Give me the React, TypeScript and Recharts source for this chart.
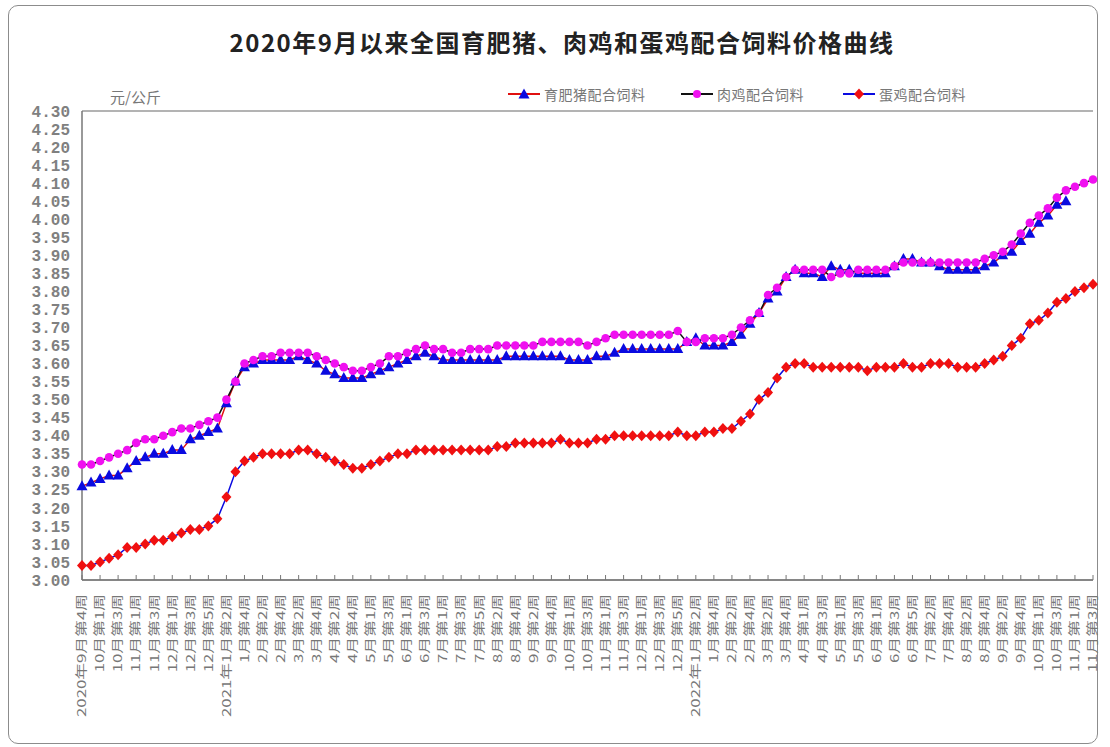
import { LineChart, Line, XAxis, YAxis, CartesianGrid } from 'recharts'

// 周次（每周一个点，横轴隔一周标一次）
const weeks = [
  '2020年9月第4周', '9月第5周', '10月第1周', '10月第2周', '10月第3周', '10月第4周',
  '11月第1周', '11月第2周', '11月第3周', '11月第4周',
  '12月第1周', '12月第2周', '12月第3周', '12月第4周', '12月第5周',
  '1月第1周', '2021年1月第2周', '1月第3周', '1月第4周',
  '2月第1周', '2月第2周', '2月第3周', '2月第4周',
  '3月第1周', '3月第2周', '3月第3周', '3月第4周',
  '4月第1周', '4月第2周', '4月第3周', '4月第4周', '4月第5周',
  '5月第1周', '5月第2周', '5月第3周', '5月第4周',
  '6月第1周', '6月第2周', '6月第3周', '6月第4周',
  '7月第1周', '7月第2周', '7月第3周', '7月第4周', '7月第5周',
  '8月第1周', '8月第2周', '8月第3周', '8月第4周',
  '9月第1周', '9月第2周', '9月第3周', '9月第4周', '9月第5周',
  '10月第1周', '10月第2周', '10月第3周', '10月第4周',
  '11月第1周', '11月第2周', '11月第3周', '11月第4周',
  '12月第1周', '12月第2周', '12月第3周', '12月第4周', '12月第5周',
  '1月第1周', '2022年1月第2周', '1月第3周', '1月第4周',
  '2月第1周', '2月第2周', '2月第3周', '2月第4周',
  '3月第1周', '3月第2周', '3月第3周', '3月第4周', '3月第5周',
  '4月第1周', '4月第2周', '4月第3周', '4月第4周',
  '5月第1周', '5月第2周', '5月第3周', '5月第4周',
  '6月第1周', '6月第2周', '6月第3周', '6月第4周', '6月第5周',
  '7月第1周', '7月第2周', '7月第3周', '7月第4周',
  '8月第1周', '8月第2周', '8月第3周', '8月第4周',
  '9月第1周', '9月第2周', '9月第3周', '9月第4周', '9月第5周',
  '10月第1周', '10月第2周', '10月第3周', '10月第4周',
  '11月第1周', '11月第2周', '11月第3周',
]

// 育肥猪配合饲料
const pig: (number | null)[] = [
  3.26, 3.27, 3.28, 3.29, 3.29, 3.31, 3.33, 3.34, 3.35, 3.35,
  3.36, 3.36, 3.39, 3.40, 3.41, 3.42, 3.49, 3.55, 3.59, 3.60,
  3.61, 3.61, 3.61, 3.61, 3.62, 3.61, 3.60, 3.58, 3.57, 3.56,
  3.56, 3.56, 3.57, 3.58, 3.59, 3.60, 3.61, 3.62, 3.63, 3.62,
  3.61, 3.61, 3.61, 3.61, 3.61, 3.61, 3.61, 3.62, 3.62, 3.62,
  3.62, 3.62, 3.62, 3.62, 3.61, 3.61, 3.61, 3.62, 3.62, 3.63,
  3.64, 3.64, 3.64, 3.64, 3.64, 3.64, 3.64, 3.66, 3.67, 3.65,
  3.65, 3.65, 3.66, 3.68, 3.71, 3.74, 3.78, 3.80, 3.84, 3.86,
  3.85, 3.85, 3.84, 3.87, 3.86, 3.86, 3.85, 3.85, 3.85, 3.85,
  3.87, 3.89, 3.89, 3.88, 3.88, 3.87, 3.86, 3.86, 3.86, 3.86,
  3.87, 3.88, 3.90, 3.91, 3.94, 3.96, 3.99, 4.01, 4.04, 4.05,
  null, null, null,
]

// 肉鸡配合饲料
const broiler = [
  3.32, 3.32, 3.33, 3.34, 3.35, 3.36, 3.38, 3.39, 3.39, 3.40,
  3.41, 3.42, 3.42, 3.43, 3.44, 3.45, 3.50, 3.55, 3.60, 3.61,
  3.62, 3.62, 3.63, 3.63, 3.63, 3.63, 3.62, 3.61, 3.60, 3.59,
  3.58, 3.58, 3.59, 3.60, 3.62, 3.62, 3.63, 3.64, 3.65, 3.64,
  3.64, 3.63, 3.63, 3.64, 3.64, 3.64, 3.65, 3.65, 3.65, 3.65,
  3.65, 3.66, 3.66, 3.66, 3.66, 3.66, 3.65, 3.66, 3.67, 3.68,
  3.68, 3.68, 3.68, 3.68, 3.68, 3.68, 3.69, 3.66, 3.66, 3.67,
  3.67, 3.67, 3.68, 3.70, 3.72, 3.74, 3.79, 3.81, 3.84, 3.86,
  3.86, 3.86, 3.86, 3.84, 3.85, 3.85, 3.86, 3.86, 3.86, 3.86,
  3.87, 3.88, 3.88, 3.88, 3.88, 3.88, 3.88, 3.88, 3.88, 3.88,
  3.89, 3.90, 3.91, 3.93, 3.96, 3.99, 4.01, 4.03, 4.06, 4.08,
  4.09, 4.10, 4.11,
]

// 蛋鸡配合饲料
const layer = [
  3.04, 3.04, 3.05, 3.06, 3.07, 3.09, 3.09, 3.10, 3.11, 3.11,
  3.12, 3.13, 3.14, 3.14, 3.15, 3.17, 3.23, 3.30, 3.33, 3.34,
  3.35, 3.35, 3.35, 3.35, 3.36, 3.36, 3.35, 3.34, 3.33, 3.32,
  3.31, 3.31, 3.32, 3.33, 3.34, 3.35, 3.35, 3.36, 3.36, 3.36,
  3.36, 3.36, 3.36, 3.36, 3.36, 3.36, 3.37, 3.37, 3.38, 3.38,
  3.38, 3.38, 3.38, 3.39, 3.38, 3.38, 3.38, 3.39, 3.39, 3.40,
  3.40, 3.40, 3.40, 3.40, 3.40, 3.40, 3.41, 3.40, 3.40, 3.41,
  3.41, 3.42, 3.42, 3.44, 3.46, 3.50, 3.52, 3.56, 3.59, 3.60,
  3.60, 3.59, 3.59, 3.59, 3.59, 3.59, 3.59, 3.58, 3.59, 3.59,
  3.59, 3.60, 3.59, 3.59, 3.60, 3.60, 3.60, 3.59, 3.59, 3.59,
  3.60, 3.61, 3.62, 3.65, 3.67, 3.71, 3.72, 3.74, 3.77, 3.78,
  3.80, 3.81, 3.82,
]

const yTicks = [
  3.0, 3.05, 3.1, 3.15, 3.2, 3.25, 3.3, 3.35, 3.4, 3.45, 3.5, 3.55, 3.6, 3.65,
  3.7, 3.75, 3.8, 3.85, 3.9, 3.95, 4.0, 4.05, 4.1, 4.15, 4.2, 4.25, 4.3,
]

const chartData = weeks.map((w, i) => ({
  week: w,
  pig: pig[i],
  broiler: broiler[i],
  layer: layer[i],
}))

const CJK = '"Noto Sans CJK SC", sans-serif'
const BLUE = '#0a0ae0'
const PINK = '#f010f0'
const RED = '#f01010'

function WeekTick({ x, y, payload }: any) {
  return (
    <g>
      <line x1={x} y1={y} x2={x} y2={y - 5} stroke="#777" />
      <text
        transform={`translate(${x},${y + 14}) rotate(-90) scale(1.4,1)`}
        textAnchor="end"
        dy="0.36em"
        fontSize={12}
        fill="#777"
        fontFamily={CJK}
      >
        {payload.value}
      </text>
    </g>
  )
}

function Triangle({ cx, cy, index }: any) {
  if (cx == null || cy == null) return <g key={`t${index}`} />
  return (
    <polygon
      key={`t${index}`}
      points={`${cx},${cy - 6} ${cx - 5.5},${cy + 4} ${cx + 5.5},${cy + 4}`}
      fill={BLUE}
    />
  )
}

function Circle({ cx, cy, index }: any) {
  if (cx == null || cy == null) return <g key={`c${index}`} />
  return <circle key={`c${index}`} cx={cx} cy={cy} r={4.3} fill={PINK} />
}

function Diamond({ cx, cy, index }: any) {
  if (cx == null || cy == null) return <g key={`d${index}`} />
  return (
    <polygon
      key={`d${index}`}
      points={`${cx},${cy - 5.5} ${cx + 5},${cy} ${cx},${cy + 5.5} ${cx - 5},${cy}`}
      fill={RED}
    />
  )
}

function LegendItem({ left, line, marker, label }: { left: number; line: string; marker: string; label: string }) {
  return (
    <div style={{ position: 'absolute', left, top: 84, display: 'flex', alignItems: 'center', whiteSpace: 'nowrap' }}>
      <svg width={32} height={16}>
        <line x1={0} y1={8} x2={32} y2={8} stroke={line} strokeWidth={2} />
        {marker === 'triangle' && <polygon points="16,2.5 10.5,12.5 21.5,12.5" fill={BLUE} />}
        {marker === 'circle' && <circle cx={16} cy={8} r={4} fill={PINK} />}
        {marker === 'diamond' && <polygon points="16,2.5 21,8 16,13.5 11,8" fill={RED} />}
      </svg>
      <span style={{ marginLeft: 4, fontSize: 14, color: '#777', fontFamily: CJK, letterSpacing: 0.5 }}>{label}</span>
    </div>
  )
}

export default function App() {
  return (
    <div style={{ position: 'relative', width: 1110, height: 747, background: '#fff', fontFamily: CJK }}>
      <style>{`body{margin:0}`}</style>
      <div
        style={{
          position: 'absolute',
          left: 8,
          top: 5,
          width: 1088,
          height: 737,
          border: '1.5px solid #8c8c8c',
          borderRadius: 10,
        }}
      />
      <div
        style={{
          position: 'absolute',
          left: 0,
          width: 1124,
          top: 26,
          lineHeight: '32px',
          textAlign: 'center',
          fontSize: 24,
          fontWeight: 'bold',
          letterSpacing: 1.5,
          color: '#222',
        }}
      >
        2020年9月以来全国育肥猪、肉鸡和蛋鸡配合饲料价格曲线
      </div>
      <div style={{ position: 'absolute', left: 110, top: 86, fontSize: 15, color: '#777' }}>元/公斤</div>
      <LegendItem left={508} line="#e01010" marker="triangle" label="育肥猪配合饲料" />
      <LegendItem left={681} line="#111" marker="circle" label="肉鸡配合饲料" />
      <LegendItem left={843} line={BLUE} marker="diamond" label="蛋鸡配合饲料" />
      <div style={{ position: 'absolute', left: 0, top: 0 }}>
        <LineChart width={1110} height={747} data={chartData} margin={{ top: 111, right: 17, bottom: 0, left: 0 }}>
          <CartesianGrid vertical={false} stroke="#9a9a9a" strokeWidth={1.4} />
          <XAxis
            dataKey="week"
            interval={1}
            height={167}
            tickSize={0}
            tickMargin={0}
            tick={<WeekTick />}
            axisLine={{ stroke: '#777', strokeWidth: 1.5 }}
            tickLine={false}
          />
          <YAxis
            yAxisId="left"
            width={82}
            domain={[3, 4.3]}
            ticks={yTicks}
            interval={0}
            tickSize={0}
            tickMargin={12}
            tickFormatter={(v: number) => v.toFixed(2)}
            tick={{ fill: '#808080', fontSize: 16, fontFamily: '"Liberation Mono", monospace', fontWeight: 'bold' }}
            axisLine={{ stroke: '#777', strokeWidth: 1.5 }}
            tickLine={false}
          />
          <YAxis
            yAxisId="right"
            orientation="right"
            width={0}
            domain={[3, 4.3]}
            tick={false}
            tickLine={false}
            axisLine={{ stroke: '#999', strokeDasharray: '2 2' }}
          />
          <Line
            yAxisId="left"
            dataKey="pig"
            stroke="#e01010"
            strokeWidth={1.5}
            dot={<Triangle />}
            activeDot={false}
            isAnimationActive={false}
          />
          <Line
            yAxisId="left"
            dataKey="broiler"
            stroke="#111"
            strokeWidth={1.5}
            dot={<Circle />}
            activeDot={false}
            isAnimationActive={false}
          />
          <Line
            yAxisId="left"
            dataKey="layer"
            stroke={BLUE}
            strokeWidth={1.5}
            dot={<Diamond />}
            activeDot={false}
            isAnimationActive={false}
          />
        </LineChart>
      </div>
    </div>
  )
}
